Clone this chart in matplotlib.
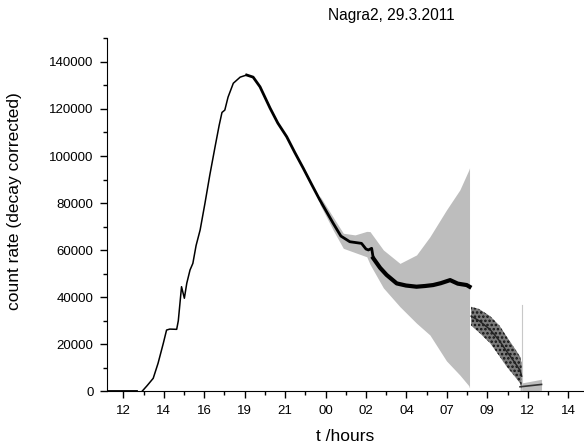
import numpy as np
import matplotlib.pyplot as plt
from matplotlib.ticker import MultipleLocator

plt.rcParams['font.family'] = ['Liberation Sans', 'DejaVu Sans']
plt.rcParams['hatch.linewidth'] = 1.2

# x positions are in tick units: 0 -> "12", 1 -> "14", ... 11 -> "14"
tick_labels = ["12", "14", "16", "19", "21", "00", "02", "04", "07", "09", "12", "14"]

# baseline before the measurement started
base_x = [-0.41, 0.33]
base_y = [0, 0]

# main count rate (decay corrected)
main_x = [0.46, 0.59, 0.74, 0.86, 0.99, 1.07, 1.15, 1.32, 1.36, 1.44, 1.51, 1.57,
          1.65, 1.72, 1.80, 1.90, 2.02, 2.14, 2.27, 2.37, 2.44, 2.51, 2.59, 2.72,
          2.89, 3.05, 3.21, 3.38, 3.63, 3.82, 4.04, 4.24, 4.45, 4.67, 4.86, 5.19,
          5.38, 5.60, 5.89, 6.00, 6.06, 6.14, 6.18, 6.35, 6.51, 6.76, 6.99, 7.25,
          7.46, 7.66, 7.85, 8.08, 8.27, 8.49, 8.56]
main_y = [0, 2500, 5600, 12000, 20500, 26100, 26500, 26400, 30000, 44500, 39600, 46000,
          51600, 54400, 62000, 68600, 80000, 92000, 104000, 113000, 118500, 119500, 125000, 130900,
          133500, 134400, 133500, 129400, 120300, 114000, 108200, 101500, 94800, 87500, 81300, 71400,
          66000, 63600, 62900, 60500, 60100, 60800, 56600, 52500, 49500, 45900, 45000, 44500,
          44800, 45200, 46000, 47300, 45800, 45200, 44500]

# uncertainty band of the main curve
band_x = [4.86, 5.19, 5.44, 5.73, 6.02, 6.10, 6.43, 6.84, 7.25, 7.58, 7.99, 8.32, 8.54, 8.56]
band_hi = [83000, 74000, 67200, 66500, 68000, 67900, 60100, 54400, 58000, 65700, 77100, 85600, 94000, 95000]
band_lo = [79500, 68500, 60800, 59000, 57200, 54000, 44000, 36000, 29000, 24000, 13000, 7000, 2500, 1500]

# scattered points after the break
scat_x = [8.60, 8.80, 9.07, 9.30, 9.48, 9.65, 9.81, 9.85]
scat_hi = [36000, 35000, 32000, 28000, 23300, 19000, 14800, 12000]
scat_lo = [28000, 25000, 20500, 15000, 10500, 7000, 3500, 1000]
scat_mid = [32000, 30000, 26300, 21500, 17000, 13000, 9000, 6500]

# last segment
end_x = [9.81, 10.34]
end_y = [2000, 3000]
end_hi = [3500, 5200]
end_lo = [0, 500]

fig = plt.figure(figsize=(5.84, 4.46), dpi=100)
ax = fig.add_axes([0.1827, 0.1222, 0.8173, 0.792])

ax.fill_between(band_x, band_lo, band_hi, color="#bdbdbd", lw=0)
ax.fill_between(end_x, end_lo, end_hi, color="#bdbdbd", lw=0)
ax.plot([9.86, 9.86], [0, 36700], color="#c8c8c8", lw=0.8)

# dense dots after the break
ax.fill_between(scat_x, scat_lo, scat_hi, facecolor="#7a7a7a", edgecolor="#111111",
                hatch="....", lw=0)
ax.plot(scat_x, scat_mid, color="#222222", lw=1.0)

ax.plot(base_x, base_y, color="black", lw=1.3)
n1 = main_x.index(3.05)
n2 = main_x.index(6.18)
ax.plot(main_x[:n1 + 1], main_y[:n1 + 1], color="black", lw=1.1)
ax.plot(main_x[n1:n2 + 1], main_y[n1:n2 + 1], color="black", lw=2.0)
ax.plot(main_x[n2:], main_y[n2:], color="black", lw=3.0)
ax.plot(end_x, end_y, color="#333333", lw=1.2)

ax.set_xlim(-0.41, 11.39)
ax.set_ylim(0, 150000)
ax.set_xticks(range(len(tick_labels)))
ax.set_xticklabels(tick_labels)
ax.xaxis.set_minor_locator(MultipleLocator(0.5))
ax.yaxis.set_major_locator(MultipleLocator(20000))
ax.yaxis.set_minor_locator(MultipleLocator(10000))
ax.tick_params(which="major", direction="out", length=5, width=1, labelsize=9.5, pad=4.5)
ax.tick_params(which="minor", direction="out", length=3, width=1)

ax.spines["top"].set_visible(False)
ax.spines["right"].set_visible(False)

ax.set_xlabel("t /hours", fontsize=12.5, labelpad=9)
ax.set_ylabel("count rate (decay corrected)", fontsize=12.5)
ax.yaxis.set_label_coords(-0.178, 0.54)

fig.text(0.5616, 0.966, "Nagra2, 29.3.2011", fontsize=11.2, ha="left", va="center")

fig.savefig("out.png", dpi=100)
